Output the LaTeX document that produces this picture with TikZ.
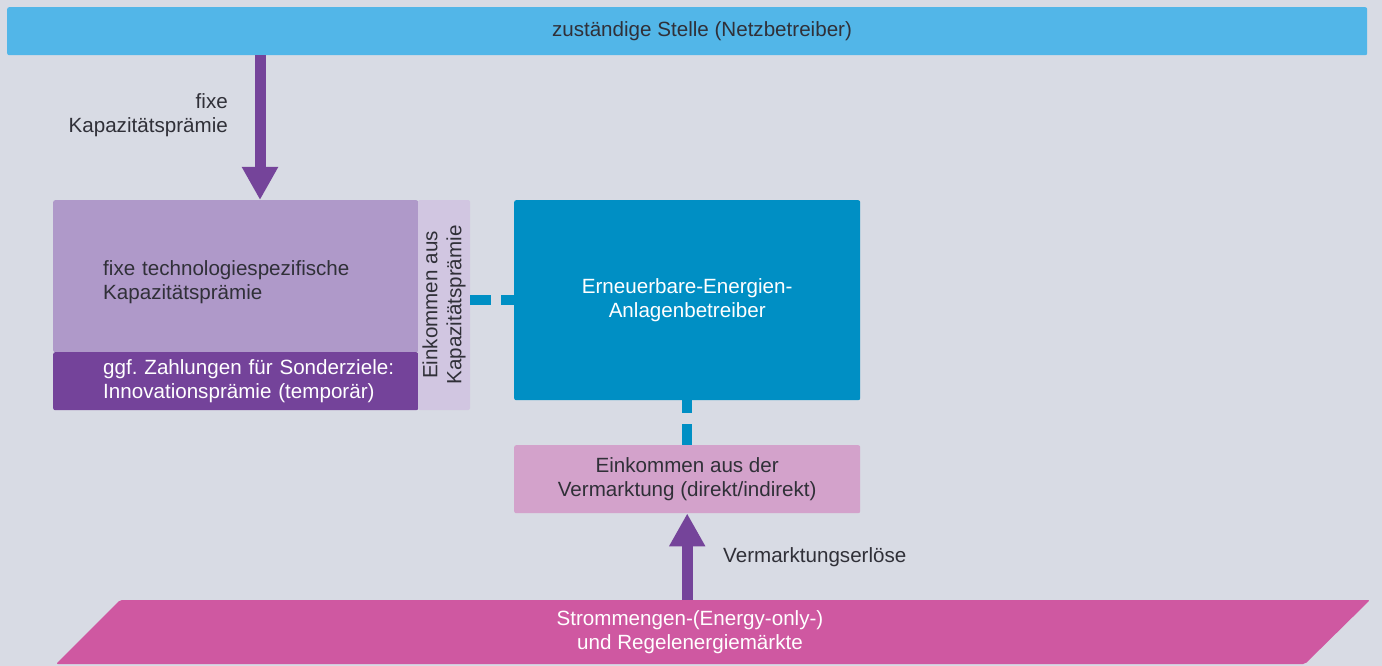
\documentclass[tikz,border=0pt]{standalone}
\usepackage{fontspec}
\setmainfont{Liberation Sans}
\usetikzlibrary{arrows.meta}

\definecolor{grund}{HTML}{D8DBE4}
\definecolor{hellblau}{HTML}{52B6E8}
\definecolor{violett}{HTML}{75449A}
\definecolor{lila}{HTML}{AF99C9}
\definecolor{dunkellila}{HTML}{74439A}
\definecolor{blasslila}{HTML}{D1C6E1}
\definecolor{blau}{HTML}{008FC4}
\definecolor{rosa}{HTML}{D3A2CB}
\definecolor{himbeer}{HTML}{CF58A1}
\definecolor{ink}{HTML}{303038}

\newcommand\schrift{\fontsize{20.6}{24}\selectfont}

\tikzset{
  box/.style={rectangle, rounded corners=2pt, inner sep=0pt, anchor=north west, font=\schrift, text=ink},
  beschriftung/.style={font=\schrift, text=ink, inner sep=0pt},
  pfeil/.style={line width=11pt, draw=violett, -{Triangle[width=34pt,length=33pt]}},
  strich/.style={line width=10pt, draw=blau},
}

\begin{document}
\begin{tikzpicture}[x=1pt,y=-1pt]
% Hintergrund
\fill[grund] (0,0) rectangle (1382,666);
\useasboundingbox (0,0) rectangle (1382,666);

% Netzbetreiber
\node[box, fill=hellblau, minimum width=1360pt, minimum height=48pt] (stelle) at (7,7) {};
\node[beschriftung] (stelletext) at (702,31) {zuständige Stelle (Netzbetreiber)};

% Kapazitaetspraemie
\node[box, fill=lila, minimum width=365pt, minimum height=152pt, text width=265pt, inner xsep=50pt, align=left] (fixe) at (53,200) {\rule{0pt}{26pt}\mbox{fixe technologiespezifische}\\Kapazitätsprämie};
\node[box, fill=dunkellila, text=white, minimum width=365pt, minimum height=58pt, text width=265pt, inner xsep=50pt, align=left] (sonder) at (53,352) {\mbox{ggf.\ Zahlungen für Sonderziele:}\\\mbox{Innovationsprämie (temporär)}};
\node[box, fill=blasslila, anchor=center, rotate=90, minimum width=210pt, minimum height=52pt, align=center] (kap) at (444,305) {Einkommen aus\\Kapazitätsprämie};

% Betreiber und Vermarktung
\node[box, fill=blau, text=white, minimum width=346pt, minimum height=200pt, align=center] (betreiber) at (514,200) {Erneuerbare-Energien-\\Anlagenbetreiber};
\node[box, fill=rosa, minimum width=346pt, minimum height=68pt, align=center] (vermarktung) at (514,445) {Einkommen aus der\\Vermarktung (direkt/indirekt)};

% Maerkte
\fill[himbeer, rounded corners=2pt] (120,600) -- (1370,600) -- (1305,664) -- (56,664) -- cycle;
\coordinate (marktoben) at (687,600);
\node[beschriftung, text=white, align=center] (markt) at (690,632) {Strommengen-(Energy-only-)\\und Regelenergiemärkte};

% Pfeile
\coordinate (fixeein) at (260,200);
\draw[pfeil] (stelle.south -| fixeein) -- (fixeein);
\draw[pfeil] (vermarktung.south |- marktoben) -- (vermarktung.south);
\node[beschriftung, align=right, anchor=east] (fixelabel) at (228,115) {fixe\\Kapazitätsprämie};
\node[beschriftung, anchor=west] (erloese) at (723,557) {Vermarktungserlöse};

% Verbindungen
\draw[strich, dash pattern=on 21pt off 10pt on 20pt] (kap.south |- betreiber.west) -- (betreiber.west);
\draw[strich, dash pattern=on 13pt off 11pt on 30pt] (betreiber.south) -- (vermarktung.north);
\end{tikzpicture}
\end{document}
